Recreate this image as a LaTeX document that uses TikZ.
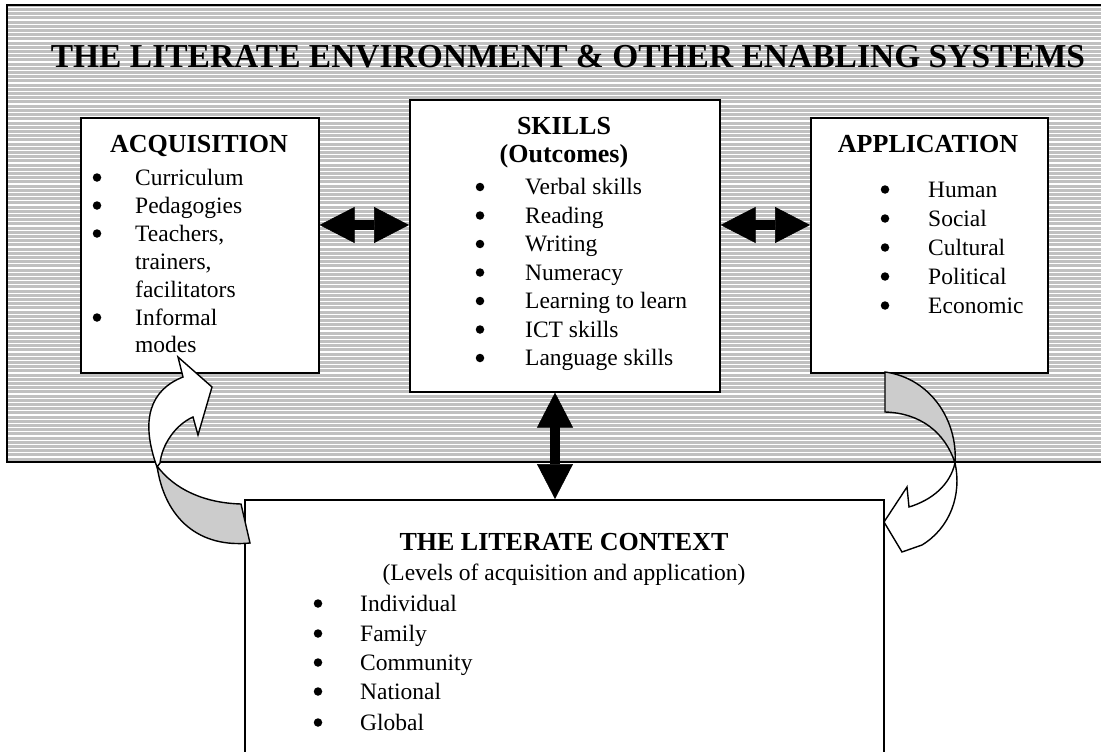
\documentclass[tikz,border=0pt]{standalone}
\usepackage{fontspec}
\setmainfont{Liberation Serif}
\usetikzlibrary{arrows.meta}
\definecolor{stripegray}{RGB}{192,192,192}
\definecolor{ribbongray}{RGB}{204,204,204}
\begin{document}
\begin{tikzpicture}[x=1pt,y=-1pt,
  box/.style={draw, line width=1.6pt, fill=white, anchor=north west, inner sep=0pt},
  heading/.style={font=\fontsize{26}{30}\selectfont\bfseries, anchor=base, inner sep=0pt},
  itemtext/.style={font=\fontsize{23.5}{28}\selectfont, anchor=base west, inner sep=0pt},
  dot/.style={circle, fill, inner sep=0pt, minimum size=8.5pt, yshift=7.5pt},
  blockarrow/.style={line width=10pt,
    {Triangle[length=35pt,width=36pt,line width=0.5pt]}-{Triangle[length=35pt,width=36pt,line width=0.5pt]}},
  ribbon/.style={line width=1.4pt, line join=miter}]
\useasboundingbox (0,0) rectangle (1101,752);

% striped environment panel
\begin{scope}
  \clip (7,5) rectangle (1101,462);
  \fill[stripegray] (7,5) rectangle (1101,462);
  \foreach \k in {0,...,108}
    \draw[white, line width=1.2pt] (7,{7.5+4.2*\k}) -- (1101,{7.5+4.2*\k});
\end{scope}
\draw[line width=2pt] (1103,5) -- (7,5) -- (7,462) -- (1103,462);

\node[font=\fontsize{33.5}{36}\selectfont\bfseries, anchor=base, inner sep=0pt] (title) at (568,68)
  {THE LITERATE ENVIRONMENT \& OTHER ENABLING SYSTEMS};

% the three boxes
\node[box, minimum width=238pt, minimum height=255pt] (acq) at (80,117) {};
\node[box, minimum width=310pt, minimum height=292pt] (skills) at (409,99) {};
\node[box, minimum width=237pt, minimum height=255pt] (app) at (810,117) {};

% acquisition
\node[heading] (acqh) at (199,152) {ACQUISITION};
\node[dot] (ad1) at (97,185) {};
\node[itemtext] (a1) at (135,185) {Curriculum};
\node[dot] (ad2) at (97,213) {};
\node[itemtext] (a2) at (135,213) {Pedagogies};
\node[dot] (ad3) at (97,241) {};
\node[itemtext] (a3) at (135,241) {Teachers,};
\node[itemtext] (a4) at (135,269) {trainers,};
\node[itemtext] (a5) at (135,297) {facilitators};
\node[dot] (ad6) at (97,325) {};
\node[itemtext] (a6) at (135,325) {Informal};
\node[itemtext] (a7) at (135,352) {modes};

% skills
\node[heading] (skh1) at (564,134) {SKILLS};
\node[heading] (skh2) at (564,162) {(Outcomes)};
\node[dot] (sd1) at (480,194.5) {};
\node[itemtext] (s1) at (525,194.5) {Verbal skills};
\node[dot] (sd2) at (480,223) {};
\node[itemtext] (s2) at (525,223) {Reading};
\node[dot] (sd3) at (480,251.5) {};
\node[itemtext] (s3) at (525,251.5) {Writing};
\node[dot] (sd4) at (480,280) {};
\node[itemtext] (s4) at (525,280) {Numeracy};
\node[dot] (sd5) at (480,308.5) {};
\node[itemtext] (s5) at (525,308.5) {Learning to learn};
\node[dot] (sd6) at (480,337) {};
\node[itemtext] (s6) at (525,337) {ICT skills};
\node[dot] (sd7) at (480,365.5) {};
\node[itemtext] (s7) at (525,365.5) {Language skills};

% application
\node[heading] (apph) at (928,152) {APPLICATION};
\node[dot] (pd1) at (885,197) {};
\node[itemtext] (p1) at (928,197) {Human};
\node[dot] (pd2) at (885,226) {};
\node[itemtext] (p2) at (928,226) {Social};
\node[dot] (pd3) at (885,255) {};
\node[itemtext] (p3) at (928,255) {Cultural};
\node[dot] (pd4) at (885,284) {};
\node[itemtext] (p4) at (928,284) {Political};
\node[dot] (pd5) at (885,313) {};
\node[itemtext] (p5) at (928,313) {Economic};

% context box (runs off the lower edge)
\node[box, minimum width=639pt, minimum height=270pt] (ctx) at (244,499) {};
\node[heading] (ctxh) at (564,550) {THE LITERATE CONTEXT};
\node[font=\fontsize{23.5}{28}\selectfont, anchor=base, inner sep=0pt] (ctxs) at (564,580)
  {(Levels of acquisition and application)};
\node[dot] (cd1) at (318,611) {};
\node[itemtext] (c1) at (360,611) {Individual};
\node[dot] (cd2) at (318,641) {};
\node[itemtext] (c2) at (360,641) {Family};
\node[dot] (cd3) at (318,670) {};
\node[itemtext] (c3) at (360,670) {Community};
\node[dot] (cd4) at (318,699) {};
\node[itemtext] (c4) at (360,699) {National};
\node[dot] (cd5) at (318,730) {};
\node[itemtext] (c5) at (360,730) {Global};

% two-way block arrows
\coordinate (hrow) at (0,225);
\coordinate (vcol) at (555,0);
\draw[blockarrow] (acq.east |- hrow) -- (skills.west |- hrow);
\draw[blockarrow] (skills.east |- hrow) -- (app.west |- hrow);
\draw[blockarrow] (skills.south -| vcol) -- (ctx.north -| vcol);

% curved ribbon arrow: context -> acquisition
\filldraw[ribbon, fill=ribbongray] (157,466) .. controls (175,490) and (205,503) .. (241,504)
  -- (250,543) .. controls (200,548) and (165,520) .. cycle;
\filldraw[ribbon, fill=white] (157,467) .. controls (140,420) and (150,390) .. (183,377)
  -- (178,357) -- (212,387) -- (198,435) -- (193,417)
  .. controls (175,425) and (162,445) .. (160,463) -- cycle;

% curved ribbon arrow: application -> context
\filldraw[ribbon, fill=ribbongray] (885,372) .. controls (930,378) and (958,420) .. (955,463)
  .. controls (945,432) and (920,413) .. (885,412) -- cycle;
\filldraw[ribbon, fill=white] (955,463) .. controls (962,495) and (950,528) .. (922,545)
  -- (902,552) -- (884,522) -- (907,487) -- (909,507)
  .. controls (932,500) and (950,485) .. (955,463) -- cycle;
\end{tikzpicture}
\end{document}
